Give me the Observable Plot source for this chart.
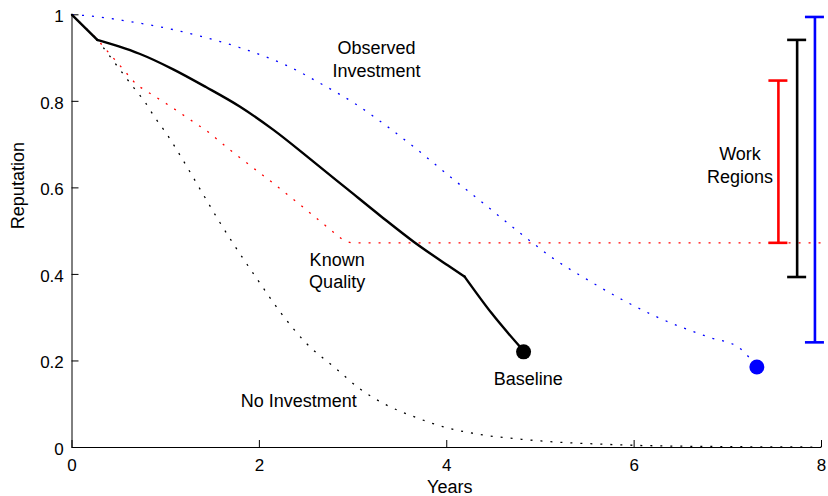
<!DOCTYPE html>
<html>
<head>
<meta charset="utf-8">
<script src="https://cdn.jsdelivr.net/npm/d3@7"></script>
<script src="https://cdn.jsdelivr.net/npm/@observablehq/plot@0.6"></script>
<style>
  html, body { margin: 0; padding: 0; background: #fff; }
</style>
</head>
<body>
<script>
// Baseline (solid black)
const baselineX = [0, 0.27, 0.50, 0.72, 1.08, 1.43, 1.79, 2.15, 2.58, 2.94, 3.30, 3.65, 4.01, 4.19, 4.48, 4.83];
const baselineY = [1, 0.942, 0.927, 0.910, 0.874, 0.833, 0.788, 0.734, 0.660, 0.597, 0.534, 0.475, 0.421, 0.395, 0.310, 0.221];
const baselineKinks = [1, 13]; // indices where the curve bends sharply

// Observed Investment (blue dotted)
const observedX = [0, 0.16, 0.60, 0.99, 1.38, 1.78, 2.09, 2.27, 2.68, 3.04, 3.37, 3.71, 4.04, 4.41, 4.74, 4.94, 5.11, 5.50, 5.87, 6.22, 6.81, 7.11, 7.19, 7.31];
const observedY = [1, 0.998, 0.985, 0.970, 0.950, 0.925, 0.901, 0.885, 0.838, 0.792, 0.741, 0.684, 0.625, 0.561, 0.503, 0.469, 0.441, 0.388, 0.342, 0.304, 0.254, 0.232, 0.217, 0.186];

// Known Quality (red dotted)
const knownX = [0, 0.27, 0.69, 1.04, 1.45, 1.69, 2.14, 2.48, 2.90, 2.98, 8];
const knownY = [1, 0.943, 0.838, 0.790, 0.730, 0.687, 0.612, 0.553, 0.478, 0.473, 0.473];

// No Investment (black dotted)
const noInvX = [0, 0.27, 0.65, 0.78, 0.89, 1.01, 1.16, 1.37, 1.57, 1.74, 1.98, 2.23, 2.50, 2.82, 3.07, 3.35, 3.64, 3.98, 4.39, 4.80, 5.21, 5.62, 6.01, 7.0, 8];
const noInvY = [1, 0.943, 0.834, 0.798, 0.761, 0.725, 0.673, 0.596, 0.523, 0.465, 0.388, 0.311, 0.241, 0.182, 0.136, 0.099, 0.072, 0.047, 0.029, 0.019, 0.012, 0.008, 0.005, 0.002, 0.001];
const noInvKinks = [1];

// End points
const endX = [4.82, 7.31];
const endY = [0.221, 0.186];
const endColor = ["#000000", "#0000ff"];

// Work regions (error bars)
const workX = [7.54, 7.74, 7.93];
const workLow = [0.473, 0.394, 0.243];
const workHigh = [0.848, 0.942, 0.995];
const workColor = ["#ff0000", "#000000", "#0000ff"];

// Annotations
const labelText = ["Observed\nInvestment", "Known\nQuality", "No Investment", "Baseline", "Work\nRegions"];
const labelX = [3.25, 2.83, 2.42, 4.87, 7.13];
const labelY = [0.900, 0.411, 0.110, 0.161, 0.654];

// Ticks
const xTicks = [0, 2, 4, 6, 8];
const xTickLabels = ["0", "2", "4", "6", "8"];
const yTicks = [0, 0.2, 0.4, 0.6, 0.8, 1];
const yTickLabels = ["0", "0.2", "0.4", "0.6", "0.8", "1"];

const toRows = (X, Y) => X.map((x, i) => ({x, y: Y[i]}));
// split a series into pieces at kink indices (each piece shares its end point)
const splitAt = (rows, kinks) => {
  const cuts = [0, ...kinks, rows.length - 1];
  const out = [];
  for (let k = 0; k < cuts.length - 1; k++) {
    rows.slice(cuts[k], cuts[k + 1] + 1).forEach(r => out.push({...r, seg: k}));
  }
  return out;
};
const baseline = splitAt(toRows(baselineX, baselineY), baselineKinks);
const observed = toRows(observedX, observedY);
const known = toRows(knownX, knownY);
const noInv = splitAt(toRows(noInvX, noInvY), noInvKinks);
const ends = endX.map((x, i) => ({x, y: endY[i], c: endColor[i]}));
const work = workX.map((x, i) => ({x, lo: workLow[i], hi: workHigh[i], c: workColor[i]}));
const labels = labelText.map((t, i) => ({t, x: labelX[i], y: labelY[i]}));

const font = "'Liberation Sans', Arial, Helvetica, sans-serif";
const dotted = {strokeWidth: 1.3, strokeDasharray: "2 8", strokeLinecap: "butt"};

const chart = Plot.plot({
  width: 828,
  height: 496,
  marginLeft: 71.5,
  marginRight: 7,
  marginTop: 14.3,
  marginBottom: 49,
  style: {fontFamily: font, fontSize: "17px", background: "#fff", overflow: "visible"},
  x: {domain: [0, 8]},
  y: {domain: [0, 1]},
  color: {type: "identity"},
  marks: [
    Plot.ruleX([0], {stroke: "#000", strokeWidth: 1}),
    Plot.ruleY([0], {stroke: "#000", strokeWidth: 1}),
    Plot.axisX({ticks: xTicks, tickSize: -7, tickFormat: () => "", label: null, stroke: "#000"}),
    Plot.axisX({ticks: xTicks, tickSize: 0, tickPadding: 11.6, tickFormat: (d) => xTickLabels[xTicks.indexOf(d)], label: null, fontSize: 17, fill: "#000"}),
    Plot.axisY({ticks: yTicks, tickSize: -7, tickFormat: () => "", label: null, stroke: "#000"}),
    Plot.axisY({ticks: yTicks, tickSize: 0, tickPadding: 8.2, dy: 2, tickFormat: (d) => yTickLabels[yTicks.indexOf(d)], label: null, fontSize: 17, fill: "#000"}),
    Plot.line(noInv, {x: "x", y: "y", z: "seg", stroke: "#000000", curve: "monotone-x", ...dotted}),
    Plot.line(known, {x: "x", y: "y", stroke: "#ff0000", ...dotted}),
    Plot.line(observed, {x: "x", y: "y", stroke: "#0000ff", curve: "monotone-x", ...dotted}),
    Plot.line(baseline, {x: "x", y: "y", z: "seg", stroke: "#000000", strokeWidth: 2.4, curve: "monotone-x", strokeLinejoin: "round"}),
    Plot.ruleX(work, {x: "x", y1: "lo", y2: "hi", stroke: "c", strokeWidth: 2.6}),
    Plot.ruleY(work, {x1: "x", x2: "x", y: "lo", stroke: "c", strokeWidth: 2.6, insetLeft: -9.5, insetRight: -9.5}),
    Plot.ruleY(work, {x1: "x", x2: "x", y: "hi", stroke: "c", strokeWidth: 2.6, insetLeft: -9.5, insetRight: -9.5}),
    Plot.dot(ends, {x: "x", y: "y", r: 7.5, fill: "c", stroke: null}),
    Plot.text(labels, {x: "x", y: "y", text: "t", fontSize: 18, lineHeight: 1.25, fill: "#000", textAnchor: "middle", lineAnchor: "middle"}),
    Plot.text(["Years"], {frameAnchor: "bottom", dx: 3, dy: 40, fontSize: 18, fill: "#000", lineAnchor: "middle"}),
    Plot.text(["Reputation"], {frameAnchor: "left", dx: -53.8, dy: -2, rotate: -90, fontSize: 18, fill: "#000", lineAnchor: "middle"})
  ]
});
document.body.appendChild(chart);
</script>
</body>
</html>
